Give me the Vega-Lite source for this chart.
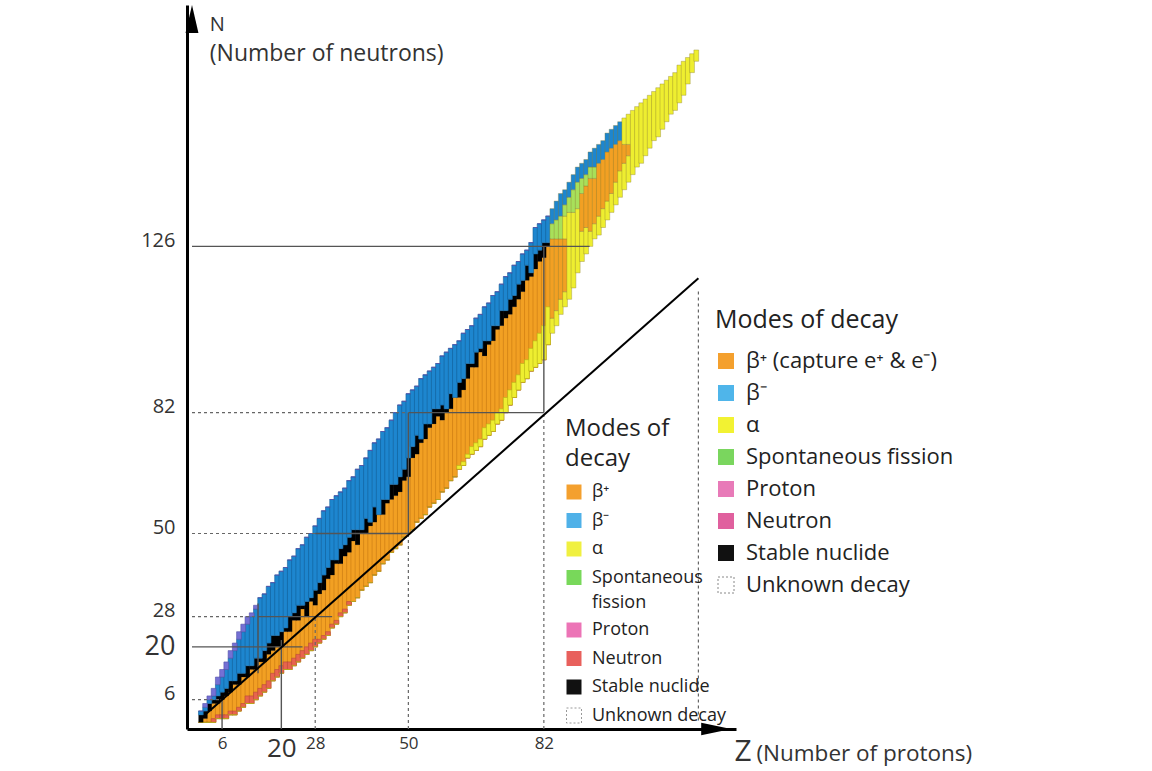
{
"$schema": "https://vega.github.io/schema/vega-lite/v6.json",
"width": 549, "height": 724,
"autosize": {"type": "none"},
"padding": {"left": 187, "top": 5, "right": 416, "bottom": 42},
"background": "white",
"config": {"view": {"stroke": null}, "font": "Open Sans"},
"datasets": {
"cols": [
{"z":1,"lo":0,"s":0,"t":2,"hi":3,"r":0,"a":0,"v":3},
{"z":2,"lo":0,"s":1,"t":3,"hi":5,"r":0,"a":0,"v":4},
{"z":3,"lo":0,"s":3,"t":5,"hi":7,"r":0,"a":0,"v":6},
{"z":4,"lo":0,"s":5,"t":6,"hi":9,"r":1,"a":0,"v":7},
{"z":5,"lo":1,"s":5,"t":7,"hi":12,"r":2,"a":1,"v":10},
{"z":6,"lo":1,"s":6,"t":8,"hi":14,"r":2,"a":1,"v":12},
{"z":7,"lo":1,"s":7,"t":9,"hi":16,"r":2,"a":1,"v":14},
{"z":8,"lo":2,"s":8,"t":11,"hi":19,"r":3,"a":2,"v":17},
{"z":9,"lo":2,"s":10,"t":11,"hi":21,"r":3,"a":2,"v":19},
{"z":10,"lo":3,"s":10,"t":13,"hi":24,"r":4,"a":3,"v":22},
{"z":11,"lo":4,"s":12,"t":13,"hi":26,"r":5,"a":4,"v":24},
{"z":12,"lo":5,"s":12,"t":15,"hi":28,"r":7,"a":5,"v":26},
{"z":13,"lo":5,"s":14,"t":15,"hi":29,"r":7,"a":5,"v":28},
{"z":14,"lo":6,"s":14,"t":17,"hi":31,"r":8,"a":6,"v":30},
{"z":15,"lo":7,"s":16,"t":17,"hi":33,"r":9,"a":7,"v":33},
{"z":16,"lo":8,"s":16,"t":19,"hi":34,"r":10,"a":8,"v":34},
{"z":17,"lo":9,"s":18,"t":21,"hi":36,"r":11,"a":9,"v":36},
{"z":18,"lo":11,"s":19,"t":23,"hi":37,"r":13,"a":11,"v":37},
{"z":19,"lo":12,"s":20,"t":23,"hi":39,"r":14,"a":12,"v":39},
{"z":20,"lo":13,"s":20,"t":24,"hi":40,"r":15,"a":13,"v":40},
{"z":21,"lo":14,"s":24,"t":25,"hi":41,"r":16,"a":14,"v":41},
{"z":22,"lo":14,"s":24,"t":28,"hi":43,"r":16,"a":14,"v":43},
{"z":23,"lo":15,"s":27,"t":29,"hi":44,"r":17,"a":15,"v":44},
{"z":24,"lo":16,"s":27,"t":31,"hi":46,"r":18,"a":16,"v":46},
{"z":25,"lo":17,"s":30,"t":31,"hi":47,"r":19,"a":17,"v":47},
{"z":26,"lo":18,"s":28,"t":32,"hi":49,"r":20,"a":18,"v":49},
{"z":27,"lo":19,"s":32,"t":33,"hi":50,"r":21,"a":19,"v":50},
{"z":28,"lo":20,"s":31,"t":35,"hi":52,"r":22,"a":20,"v":52},
{"z":29,"lo":21,"s":34,"t":37,"hi":54,"r":22,"a":21,"v":54},
{"z":30,"lo":22,"s":35,"t":39,"hi":56,"r":23,"a":22,"v":56},
{"z":31,"lo":23,"s":38,"t":41,"hi":57,"r":24,"a":23,"v":57},
{"z":32,"lo":25,"s":39,"t":43,"hi":59,"r":26,"a":25,"v":59},
{"z":33,"lo":26,"s":42,"t":43,"hi":60,"r":27,"a":26,"v":60},
{"z":34,"lo":28,"s":42,"t":46,"hi":61,"r":29,"a":28,"v":61},
{"z":35,"lo":29,"s":44,"t":47,"hi":62,"r":30,"a":29,"v":62},
{"z":36,"lo":31,"s":45,"t":49,"hi":64,"r":32,"a":31,"v":64},
{"z":37,"lo":32,"s":48,"t":51,"hi":65,"r":32,"a":32,"v":65},
{"z":38,"lo":33,"s":47,"t":51,"hi":67,"r":33,"a":33,"v":67},
{"z":39,"lo":35,"s":50,"t":51,"hi":68,"r":35,"a":35,"v":68},
{"z":40,"lo":36,"s":50,"t":54,"hi":70,"r":36,"a":36,"v":70},
{"z":41,"lo":37,"s":52,"t":53,"hi":72,"r":37,"a":37,"v":72},
{"z":42,"lo":39,"s":53,"t":57,"hi":74,"r":39,"a":39,"v":74},
{"z":43,"lo":40,"s":55,"t":55,"hi":75,"r":40,"a":40,"v":75},
{"z":44,"lo":42,"s":55,"t":59,"hi":77,"r":42,"a":42,"v":77},
{"z":45,"lo":43,"s":58,"t":59,"hi":78,"r":43,"a":43,"v":78},
{"z":46,"lo":45,"s":59,"t":63,"hi":80,"r":45,"a":45,"v":80},
{"z":47,"lo":46,"s":60,"t":63,"hi":82,"r":46,"a":46,"v":82},
{"z":48,"lo":47,"s":61,"t":65,"hi":84,"r":47,"a":47,"v":84},
{"z":49,"lo":49,"s":64,"t":67,"hi":85,"r":49,"a":49,"v":85},
{"z":50,"lo":50,"s":65,"t":70,"hi":87,"r":50,"a":50,"v":87},
{"z":51,"lo":51,"s":70,"t":73,"hi":88,"r":51,"a":51,"v":88},
{"z":52,"lo":53,"s":71,"t":76,"hi":89,"r":53,"a":53,"v":89},
{"z":53,"lo":54,"s":74,"t":75,"hi":91,"r":54,"a":54,"v":91},
{"z":54,"lo":55,"s":75,"t":79,"hi":92,"r":55,"a":55,"v":92},
{"z":55,"lo":57,"s":78,"t":79,"hi":93,"r":57,"a":57,"v":93},
{"z":56,"lo":58,"s":79,"t":83,"hi":94,"r":58,"a":58,"v":94},
{"z":57,"lo":59,"s":81,"t":83,"hi":95,"r":59,"a":59,"v":95},
{"z":58,"lo":61,"s":80,"t":84,"hi":97,"r":61,"a":61,"v":97},
{"z":59,"lo":62,"s":82,"t":83,"hi":98,"r":62,"a":62,"v":98},
{"z":60,"lo":64,"s":83,"t":87,"hi":99,"r":64,"a":64,"v":99},
{"z":61,"lo":65,"s":86,"t":86,"hi":100,"r":65,"a":65,"v":100},
{"z":62,"lo":67,"s":86,"t":90,"hi":101,"r":67,"a":68,"v":101},
{"z":63,"lo":68,"s":88,"t":91,"hi":103,"r":68,"a":69,"v":103},
{"z":64,"lo":70,"s":91,"t":95,"hi":104,"r":70,"a":71,"v":104},
{"z":65,"lo":71,"s":94,"t":95,"hi":105,"r":71,"a":73,"v":105},
{"z":66,"lo":72,"s":94,"t":98,"hi":107,"r":72,"a":74,"v":107},
{"z":67,"lo":73,"s":98,"t":99,"hi":108,"r":73,"a":75,"v":108},
{"z":68,"lo":75,"s":97,"t":101,"hi":110,"r":75,"a":78,"v":110},
{"z":69,"lo":76,"s":100,"t":101,"hi":111,"r":76,"a":79,"v":111},
{"z":70,"lo":77,"s":101,"t":105,"hi":113,"r":77,"a":80,"v":113},
{"z":71,"lo":79,"s":104,"t":105,"hi":114,"r":79,"a":82,"v":114},
{"z":72,"lo":80,"s":105,"t":109,"hi":116,"r":80,"a":83,"v":116},
{"z":73,"lo":82,"s":107,"t":109,"hi":118,"r":82,"a":86,"v":118},
{"z":74,"lo":84,"s":108,"t":112,"hi":119,"r":84,"a":88,"v":119},
{"z":75,"lo":86,"s":110,"t":113,"hi":121,"r":86,"a":90,"v":121},
{"z":76,"lo":88,"s":112,"t":116,"hi":122,"r":88,"a":92,"v":122},
{"z":77,"lo":90,"s":114,"t":117,"hi":124,"r":90,"a":95,"v":124},
{"z":78,"lo":91,"s":117,"t":121,"hi":125,"r":91,"a":96,"v":125},
{"z":79,"lo":93,"s":118,"t":119,"hi":127,"r":93,"a":99,"v":127},
{"z":80,"lo":94,"s":120,"t":124,"hi":131,"r":94,"a":101,"v":131},
{"z":81,"lo":95,"s":122,"t":125,"hi":132,"r":95,"a":103,"v":132},
{"z":82,"lo":96,"s":123,"t":127,"hi":133,"r":96,"a":105,"v":133},
{"z":83,"lo":100,"s":126,"t":127,"hi":134,"r":100,"a":110,"v":134}
],
"heavy": [
{"z":84,"n0":103,"n1":107,"m":"a"},{"z":84,"n0":107,"n1":128,"m":"b+"},{"z":84,"n0":128,"n1":132,"m":"sf"},{"z":84,"n0":132,"n1":136,"m":"b-"},
{"z":85,"n0":105,"n1":109,"m":"a"},{"z":85,"n0":109,"n1":128,"m":"b+"},{"z":85,"n0":128,"n1":133,"m":"sf"},{"z":85,"n0":133,"n1":138,"m":"b-"},
{"z":86,"n0":108,"n1":112,"m":"a"},{"z":86,"n0":112,"n1":128,"m":"b+"},{"z":86,"n0":128,"n1":134,"m":"sf"},{"z":86,"n0":134,"n1":140,"m":"b-"},
{"z":87,"n0":110,"n1":114,"m":"a"},{"z":87,"n0":114,"n1":128,"m":"b+"},{"z":87,"n0":128,"n1":134,"m":"a"},{"z":87,"n0":134,"n1":137,"m":"sf"},{"z":87,"n0":137,"n1":141,"m":"b-"},
{"z":88,"n0":112,"n1":135,"m":"a"},{"z":88,"n0":135,"n1":139,"m":"sf"},{"z":88,"n0":139,"n1":143,"m":"b-"},
{"z":89,"n0":115,"n1":135,"m":"a"},{"z":89,"n0":135,"n1":141,"m":"sf"},{"z":89,"n0":141,"n1":145,"m":"b-"},
{"z":90,"n0":119,"n1":136,"m":"a"},{"z":90,"n0":136,"n1":143,"m":"sf"},{"z":90,"n0":143,"n1":147,"m":"b-"},
{"z":91,"n0":122,"n1":130,"m":"a"},{"z":91,"n0":130,"n1":140,"m":"b+"},{"z":91,"n0":140,"n1":144,"m":"sf"},{"z":91,"n0":144,"n1":148,"m":"b-"},
{"z":92,"n0":124,"n1":131,"m":"a"},{"z":92,"n0":131,"n1":142,"m":"b+"},{"z":92,"n0":142,"n1":145,"m":"sf"},{"z":92,"n0":145,"n1":149,"m":"b-"},
{"z":93,"n0":126,"n1":130,"m":"a"},{"z":93,"n0":130,"n1":144,"m":"b+"},{"z":93,"n0":144,"n1":147,"m":"sf"},{"z":93,"n0":147,"n1":151,"m":"b-"},
{"z":94,"n0":128,"n1":132,"m":"a"},{"z":94,"n0":132,"n1":144,"m":"b+"},{"z":94,"n0":144,"n1":147,"m":"sf"},{"z":94,"n0":147,"n1":152,"m":"b-"},
{"z":95,"n0":129,"n1":134,"m":"a"},{"z":95,"n0":134,"n1":148,"m":"b+"},{"z":95,"n0":148,"n1":153,"m":"b-"},
{"z":96,"n0":131,"n1":136,"m":"a"},{"z":96,"n0":136,"n1":149,"m":"b+"},{"z":96,"n0":149,"n1":154,"m":"b-"},
{"z":97,"n0":133,"n1":138,"m":"a"},{"z":97,"n0":138,"n1":151,"m":"b+"},{"z":97,"n0":151,"n1":156,"m":"b-"},
{"z":98,"n0":135,"n1":140,"m":"a"},{"z":98,"n0":140,"n1":152,"m":"b+"},{"z":98,"n0":152,"n1":157,"m":"b-"},
{"z":99,"n0":137,"n1":143,"m":"a"},{"z":99,"n0":143,"n1":153,"m":"b+"},{"z":99,"n0":153,"n1":158,"m":"b-"},
{"z":100,"n0":139,"n1":146,"m":"a"},{"z":100,"n0":146,"n1":154,"m":"b+"},{"z":100,"n0":154,"n1":159,"m":"b-"},
{"z":101,"n0":141,"n1":148,"m":"a"},{"z":101,"n0":148,"n1":153,"m":"b+"},{"z":101,"n0":153,"n1":160,"m":"a"},
{"z":102,"n0":143,"n1":150,"m":"a"},{"z":102,"n0":150,"n1":153,"m":"b+"},{"z":102,"n0":153,"n1":161,"m":"a"},
{"z":103,"n0":145,"n1":162,"m":"a"},{"z":104,"n0":147,"n1":163,"m":"a"},{"z":105,"n0":148,"n1":164,"m":"a"},
{"z":106,"n0":150,"n1":165,"m":"a"},{"z":107,"n0":152,"n1":166,"m":"a"},{"z":108,"n0":154,"n1":167,"m":"a"},
{"z":109,"n0":155,"n1":168,"m":"a"},{"z":110,"n0":157,"n1":169,"m":"a"},{"z":111,"n0":159,"n1":170,"m":"a"},
{"z":112,"n0":161,"n1":171,"m":"a"},{"z":113,"n0":162,"n1":172,"m":"a"},{"z":114,"n0":164,"n1":174,"m":"a"},
{"z":115,"n0":166,"n1":175,"m":"a"},{"z":116,"n0":169,"n1":176,"m":"a"},{"z":117,"n0":172,"n1":177,"m":"a"},
{"z":118,"n0":175,"n1":178,"m":"a"}
],
"solid": [
{"x1":-1.1,"y1":126,"x2":92.8,"y2":126},
{"x1":50,"y1":82,"x2":82,"y2":82},
{"x1":82,"y1":82,"x2":82,"y2":126},
{"x1":50,"y1":50,"x2":50,"y2":82},
{"x1":28,"y1":50,"x2":50,"y2":50},
{"x1":14.5,"y1":28,"x2":32,"y2":28},
{"x1":14.5,"y1":13,"x2":14.5,"y2":31.5},
{"x1":-1.1,"y1":20,"x2":25,"y2":20},
{"x1":20,"y1":-1.75,"x2":20,"y2":21.8},
{"x1":6,"y1":-1.75,"x2":6,"y2":6}
],
"dotted": [
{"x1":-1.1,"y1":82,"x2":50,"y2":82},
{"x1":-1.1,"y1":50,"x2":28,"y2":50},
{"x1":-1.1,"y1":28,"x2":14.5,"y2":28},
{"x1":-1.1,"y1":6,"x2":6,"y2":6},
{"x1":28,"y1":-1.75,"x2":28,"y2":28},
{"x1":50,"y1":-1.75,"x2":50,"y2":50},
{"x1":82,"y1":-1.75,"x2":82,"y2":82},
{"x1":118.5,"y1":0.5,"x2":118.5,"y2":114.5}
],
"diag": [{"x1":2,"y1":2,"x2":118.5,"y2":117.6}],
"legBig": [
{"label":"β⁺ (capture e⁺  & e⁻)"},{"label":"β⁻"},{"label":"α"},{"label":"Spontaneous fission"},
{"label":"Proton"},{"label":"Neutron"},{"label":"Stable nuclide"},{"label":"Unknown decay"}
],
"legSmall": [
{"lab":"β⁺"},{"lab":"β⁻"},{"lab":"α"},{"lab":"Spontaneous fission"},
{"lab":"Proton"},{"lab":"Neutron"},{"lab":"Stable nuclide"},{"lab":"Unknown decay"}
]
},
"layer": [
{"data": {"name": "cols"},
 "mark": {"type": "bar", "orient": "vertical", "width": 4.8, "color": "#f2a023", "stroke": "#c97b12", "strokeWidth": 0.6},
 "encoding": {
  "x": {"field": "z", "type": "quantitative", "scale": {"domain": [-1.1, 126.2], "nice": false, "zero": false},
        "axis": {"title": null, "values": [6, 20, 28, 50, 82], "ticks": false, "grid": false, "domainColor": "#000", "domainWidth": 3,
                 "labelFont": "Open Sans", "labelColor": "#333", "labelPadding": 6, "labelOverlap": false, "labelFlush": false,
                 "labelFontSize": {"condition": {"test": "datum.value == 20", "value": 26}, "value": 17}}},
  "y": {"field": "lo", "type": "quantitative", "scale": {"domain": [-1.75, 189.9], "nice": false, "zero": false},
        "axis": {"title": null, "values": [6, 20, 28, 50, 82, 126], "ticks": false, "grid": false, "domainColor": "#000", "domainWidth": 3,
                 "labelFont": "Open Sans", "labelColor": "#333", "labelPadding": 12, "labelOverlap": false, "labelFlush": false,
                 "labelFontSize": {"condition": {"test": "datum.value == 20", "value": 27}, "value": 20},
                 "labelOffset": {"condition": {"test": "datum.value == 20", "value": 0}, "value": -6}}},
  "y2": {"field": "s"}
 }},
{"data": {"name": "cols"},
 "mark": {"type": "bar", "orient": "vertical", "width": 4.8, "color": "#e8644e", "stroke": "#b84a3a", "strokeWidth": 0.6},
 "encoding": {"x": {"field": "z", "type": "quantitative", "title": null}, "y": {"field": "lo", "type": "quantitative", "title": null}, "y2": {"field": "r"}}},
{"data": {"name": "cols"},
 "mark": {"type": "bar", "orient": "vertical", "width": 4.8, "color": "#eeee30", "stroke": "#b5b318", "strokeWidth": 0.6},
 "encoding": {"x": {"field": "z", "type": "quantitative", "title": null}, "y": {"field": "lo", "type": "quantitative", "title": null}, "y2": {"field": "a"}}},
{"data": {"name": "cols"},
 "mark": {"type": "bar", "orient": "vertical", "width": 4.8, "color": "#000000"},
 "encoding": {"x": {"field": "z", "type": "quantitative", "title": null}, "y": {"field": "s", "type": "quantitative", "title": null}, "y2": {"field": "t"}}},
{"data": {"name": "cols"},
 "mark": {"type": "bar", "orient": "vertical", "width": 4.8, "color": "#1d86cf", "stroke": "#125f98", "strokeWidth": 0.6},
 "encoding": {"x": {"field": "z", "type": "quantitative", "title": null}, "y": {"field": "t", "type": "quantitative", "title": null}, "y2": {"field": "v"}}},
{"data": {"name": "cols"},
 "mark": {"type": "bar", "orient": "vertical", "width": 4.8, "color": "#7470d4", "stroke": "#5450a8", "strokeWidth": 0.6},
 "encoding": {"x": {"field": "z", "type": "quantitative", "title": null}, "y": {"field": "v", "type": "quantitative", "title": null}, "y2": {"field": "hi"}}},
{"data": {"name": "heavy"},
 "mark": {"type": "bar", "orient": "vertical", "width": 4.8, "stroke": "#8a7a30", "strokeWidth": 0.6, "strokeOpacity": 0.6},
 "encoding": {"x": {"field": "z", "type": "quantitative", "title": null}, "y": {"field": "n0", "type": "quantitative", "title": null}, "y2": {"field": "n1"},
  "color": {"field": "m", "type": "nominal", "legend": null,
            "scale": {"domain": ["a", "b+", "sf", "b-"], "range": ["#eeee30", "#f2a023", "#a8e05a", "#1d86cf"]}}}},
{"data": {"name": "solid"},
 "mark": {"type": "rule", "color": "#555", "strokeWidth": 1.4},
 "encoding": {"x": {"field": "x1", "type": "quantitative", "title": null}, "y": {"field": "y1", "type": "quantitative", "title": null}, "x2": {"field": "x2"}, "y2": {"field": "y2"}}},
{"data": {"name": "dotted"},
 "mark": {"type": "rule", "color": "#666", "strokeWidth": 1.2, "strokeDash": [3, 3]},
 "encoding": {"x": {"field": "x1", "type": "quantitative", "title": null}, "y": {"field": "y1", "type": "quantitative", "title": null}, "x2": {"field": "x2"}, "y2": {"field": "y2"}}},
{"data": {"name": "diag"},
 "mark": {"type": "rule", "color": "#000", "strokeWidth": 2},
 "encoding": {"x": {"field": "x1", "type": "quantitative", "title": null}, "y": {"field": "y1", "type": "quantitative", "title": null}, "x2": {"field": "x2"}, "y2": {"field": "y2"}}},
{"data": {"values": [{}]},
 "mark": {"type": "point", "shape": "M0,-1L0.46,1L-0.46,1Z", "size": 784, "filled": true, "color": "#000", "opacity": 1},
 "encoding": {"x": {"datum": -1.1, "type": "quantitative"}, "y": {"datum": 186.2, "type": "quantitative"}}},
{"data": {"values": [{}]},
 "mark": {"type": "point", "shape": "M1,0L-1,0.42L-1,-0.42Z", "size": 900, "filled": true, "color": "#000", "opacity": 1},
 "encoding": {"x": {"datum": 122.7, "type": "quantitative"}, "y": {"datum": -1.75, "type": "quantitative"}}},
{"data": {"values": [{}]},
 "mark": {"type": "text", "text": "N", "align": "left", "baseline": "alphabetic", "font": "Open Sans", "fontSize": 20, "color": "#333"},
 "encoding": {"x": {"datum": 3.1, "type": "quantitative"}, "y": {"datum": 183.0, "type": "quantitative"}}},
{"data": {"values": [{}]},
 "mark": {"type": "text", "text": "(Number of neutrons)", "align": "left", "baseline": "alphabetic", "font": "Open Sans", "fontSize": 23, "color": "#333"},
 "encoding": {"x": {"datum": 3.1, "type": "quantitative"}, "y": {"datum": 175.0, "type": "quantitative"}}},
{"data": {"values": [{}]},
 "mark": {"type": "text", "text": "Z", "align": "left", "baseline": "alphabetic", "font": "Open Sans", "fontSize": 30, "color": "#333"},
 "encoding": {"x": {"datum": 127.0, "type": "quantitative"}, "y": {"datum": -10.2, "type": "quantitative"}}},
{"data": {"values": [{}]},
 "mark": {"type": "text", "text": "(Number of protons)", "align": "left", "baseline": "alphabetic", "font": "Open Sans", "fontSize": 22.5, "color": "#333"},
 "encoding": {"x": {"datum": 132.2, "type": "quantitative"}, "y": {"datum": -10.2, "type": "quantitative"}}},
{"data": {"name": "legBig"},
 "mark": {"type": "square", "opacity": 0},
 "encoding": {"x": {"datum": 0, "type": "quantitative"}, "y": {"datum": 0, "type": "quantitative"},
  "color": {"field": "label", "type": "nominal", "sort": null,
   "scale": {"domain": ["β⁺ (capture e⁺  & e⁻)", "β⁻", "α", "Spontaneous fission", "Proton", "Neutron", "Stable nuclide", "Unknown decay"],
             "range": ["#f4a02e", "#4fb5ea", "#f2f232", "#7ad65e", "#e87ab8", "#e0609e", "#111111", "#ffffff"]},
   "legend": {"orient": "none", "legendX": 528, "legendY": 303, "title": "Modes of decay", "padding": 0,
              "titleFont": "Open Sans", "titleFontSize": 25, "titleFontWeight": "normal", "titleColor": "#222", "titlePadding": 17, "titleLimit": 500,
              "labelFont": "Open Sans", "labelFontSize": 22, "labelColor": "#222", "labelLimit": 400, "labelOffset": 9,
              "symbolType": "square", "symbolSize": 256, "symbolStrokeWidth": 0, "symbolOpacity": 1, "rowPadding": 10,
              "encode": {"symbols": {"update": {"opacity": {"value": 1},
                 "stroke": {"signal": "datum.value === 'Unknown decay' ? '#888' : 'transparent'"},
                 "strokeWidth": {"value": 1},
                 "strokeDash": {"signal": "datum.value === 'Unknown decay' ? [2, 2] : [1, 0]"}}}}}}}},
{"data": {"name": "legSmall"},
 "mark": {"type": "square", "opacity": 0},
 "encoding": {"x": {"datum": 0, "type": "quantitative"}, "y": {"datum": 0, "type": "quantitative"},
  "color": {"field": "lab", "type": "nominal", "sort": null,
   "scale": {"domain": ["β⁺", "β⁻", "α", "Spontaneous fission", "Proton", "Neutron", "Stable nuclide", "Unknown decay"],
             "range": ["#f4a02e", "#4fb1e8", "#f0f040", "#78d85a", "#ec74b6", "#e8605c", "#111111", "#ffffff"]},
   "legend": {"orient": "none", "legendX": 378, "legendY": 412, "title": ["Modes of", "decay"], "padding": 0,
              "titleFont": "Open Sans", "titleFontSize": 24, "titleLineHeight": 30, "titleFontWeight": "normal", "titleColor": "#222", "titlePadding": 12,
              "labelFont": "Open Sans", "labelFontSize": 18, "labelColor": "#222", "labelLimit": 300, "labelOffset": 9,
              "labelExpr": "datum.label == 'Spontaneous fission' ? ['Spontaneous', 'fission'] : datum.label",
              "symbolType": "square", "symbolSize": 225, "symbolStrokeWidth": 0, "symbolOpacity": 1, "rowPadding": 8.5,
              "encode": {"labels": {"update": {"lineHeight": {"value": 25}}},
                 "symbols": {"update": {"opacity": {"value": 1},
                 "stroke": {"signal": "datum.value === 'Unknown decay' ? '#999' : 'transparent'"},
                 "strokeWidth": {"value": 1},
                 "strokeDash": {"signal": "datum.value === 'Unknown decay' ? [2, 2] : [1, 0]"}}}}}}}}
],
"resolve": {"scale": {"color": "independent"}, "legend": {"color": "independent"}}
}
